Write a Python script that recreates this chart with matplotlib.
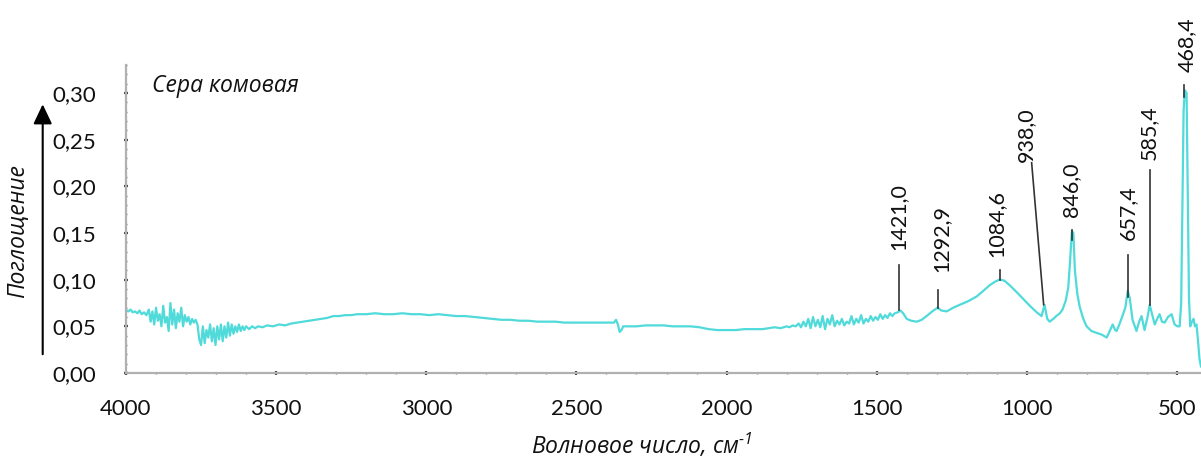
import matplotlib
matplotlib.use("Agg")
import matplotlib.pyplot as plt
from matplotlib.ticker import MultipleLocator

# IR spectrum (wavenumber, absorbance)
wn = [4000, 3992, 3985, 3978, 3970, 3962, 3955, 3948, 3940, 3932,
      3924, 3918, 3912, 3906, 3900, 3894, 3888, 3882, 3876, 3870,
      3864, 3858, 3852, 3846, 3840, 3834, 3828, 3822, 3816, 3810,
      3804, 3798, 3792, 3786, 3780, 3774, 3768, 3762,
      3756, 3750, 3744, 3738, 3732, 3726, 3720, 3714, 3708, 3702,
      3696, 3690, 3684, 3678, 3672, 3666, 3660, 3654, 3648, 3642,
      3636, 3630, 3624, 3618, 3612, 3606, 3600, 3590, 3580, 3570,
      3560, 3545, 3530, 3510, 3490, 3470, 3450, 3430, 3410, 3390,
      3370, 3350, 3330, 3310, 3290, 3270, 3250, 3230, 3200, 3170,
      3140, 3110, 3080, 3050, 3020, 2990, 2960, 2930, 2900, 2870,
      2840, 2810, 2780, 2750, 2720, 2690, 2660, 2630, 2600, 2570,
      2540, 2510, 2480, 2450, 2420, 2390, 2375, 2368, 2362, 2356,
      2350, 2344, 2330, 2300, 2270, 2240, 2210, 2180, 2150, 2120,
      2090, 2060, 2030, 2000, 1970, 1940, 1910, 1880, 1860, 1840,
      1820, 1800, 1790, 1780, 1770, 1760, 1752, 1744, 1736, 1728,
      1720, 1712, 1704, 1696, 1688, 1680, 1672, 1664, 1656, 1648,
      1640, 1632, 1624, 1616, 1608, 1600, 1592, 1584, 1576, 1568,
      1560, 1552, 1544, 1536, 1528, 1520, 1512, 1504, 1496, 1488,
      1480, 1472, 1464, 1456, 1448, 1440, 1430, 1421, 1412, 1400,
      1385, 1367, 1350, 1334, 1315, 1297, 1285, 1267, 1245, 1224,
      1195, 1167, 1145, 1124, 1105, 1091, 1075, 1057, 1035, 1014,
      990, 967, 951, 941, 932, 924, 912, 902, 890, 881,
      870, 862, 856, 850, 845, 840, 832, 824, 812, 801,
      785, 768, 750, 734, 724, 714, 706, 701, 692, 684,
      672, 664, 657, 648, 635, 626, 618, 608, 598, 591,
      582, 574, 566, 558, 550, 541, 530, 518, 508, 498,
      491, 486, 482, 478, 474, 468, 464, 460, 456, 450,
      445, 440, 435, 430, 425, 420]
absorb = [0.067, 0.066, 0.068, 0.065, 0.066, 0.064, 0.067, 0.063, 0.065, 0.062,
          0.068, 0.055, 0.066, 0.052, 0.070, 0.056, 0.063, 0.050, 0.072, 0.054,
          0.060, 0.045, 0.075, 0.052, 0.068, 0.048, 0.064, 0.055, 0.070, 0.050,
          0.062, 0.055, 0.060, 0.052, 0.058, 0.054, 0.057, 0.052,
          0.036, 0.030, 0.050, 0.032, 0.046, 0.038, 0.052, 0.034, 0.048, 0.030,
          0.050, 0.036, 0.052, 0.034, 0.050, 0.038, 0.054, 0.040, 0.052, 0.042,
          0.050, 0.044, 0.052, 0.045, 0.050, 0.046, 0.050, 0.047, 0.050, 0.048,
          0.050, 0.049, 0.051, 0.050, 0.052, 0.051, 0.053, 0.054, 0.055, 0.056,
          0.057, 0.058, 0.059, 0.061, 0.061, 0.062, 0.062, 0.063, 0.063, 0.064,
          0.063, 0.063, 0.064, 0.063, 0.063, 0.062, 0.063, 0.062, 0.061, 0.061,
          0.060, 0.059, 0.058, 0.057, 0.057, 0.056, 0.056, 0.055, 0.055, 0.055,
          0.054, 0.054, 0.054, 0.054, 0.054, 0.054, 0.054, 0.057, 0.052, 0.044,
          0.046, 0.050, 0.050, 0.050, 0.051, 0.051, 0.051, 0.050, 0.050, 0.050,
          0.049, 0.047, 0.046, 0.046, 0.046, 0.047, 0.047, 0.047, 0.048, 0.049,
          0.048, 0.050, 0.049, 0.051, 0.050, 0.053, 0.049, 0.055, 0.050, 0.058,
          0.048, 0.060, 0.050, 0.057, 0.049, 0.061, 0.047, 0.058, 0.052, 0.062,
          0.050, 0.056, 0.052, 0.058, 0.051, 0.055, 0.053, 0.061, 0.052, 0.058,
          0.054, 0.062, 0.053, 0.058, 0.055, 0.061, 0.056, 0.060, 0.057, 0.063,
          0.058, 0.062, 0.059, 0.064, 0.061, 0.064, 0.065, 0.067, 0.064, 0.058,
          0.056, 0.055, 0.057, 0.061, 0.066, 0.070, 0.067, 0.066, 0.070, 0.073,
          0.077, 0.082, 0.088, 0.094, 0.098, 0.100, 0.099, 0.094, 0.087, 0.080,
          0.072, 0.065, 0.061, 0.073, 0.058, 0.055, 0.058, 0.061, 0.064, 0.068,
          0.078, 0.092, 0.120, 0.152, 0.150, 0.110, 0.085, 0.071, 0.058, 0.050,
          0.045, 0.043, 0.041, 0.038, 0.045, 0.052, 0.046, 0.045, 0.052, 0.059,
          0.070, 0.088, 0.080, 0.057, 0.045, 0.055, 0.061, 0.046, 0.060, 0.073,
          0.062, 0.052, 0.058, 0.063, 0.055, 0.054, 0.060, 0.063, 0.052, 0.050,
          0.050, 0.075, 0.180, 0.280, 0.303, 0.300, 0.190, 0.080, 0.050, 0.055,
          0.058, 0.050, 0.052, 0.035, 0.015, 0.007]

# peak labels
peak_text = ['1421,0', '1292,9', '1084,6', '938,0', '846,0', '657,4', '585,4', '468,4']
text_x = [1427, 1284, 1100, 1004, 851, 664, 595, 468]
text_y = [0.132, 0.1085, 0.1246, 0.2265, 0.1675, 0.143, 0.2285, 0.323]
line_x_top = [1427, 1297, 1091, 984, 851, 664, 591, 475]
line_x_bot = [1427, 1297, 1091, 944, 851, 664, 591, 475]
line_y_top = [0.116, 0.0892, 0.1107, 0.2253, 0.1535, 0.1267, 0.218, 0.309]
line_y_bot = [0.0678, 0.070, 0.100, 0.0732, 0.1428, 0.0818, 0.0732, 0.296]

x_ticks = [4000, 3500, 3000, 2500, 2000, 1500, 1000, 500]
y_ticks = [0.00, 0.05, 0.10, 0.15, 0.20, 0.25, 0.30]
y_labels = ['0,00', '0,05', '0,10', '0,15', '0,20', '0,25', '0,30']

plt.rcParams['font.family'] = ['Lato', 'Open Sans', 'DejaVu Sans']
plt.rcParams['mathtext.fontset'] = 'custom'
plt.rcParams['mathtext.it'] = 'Open Sans:italic'
plt.rcParams['mathtext.rm'] = 'Open Sans:italic'

fig = plt.figure(figsize=(12.01, 4.59), dpi=100)
ax = fig.add_axes([126 / 1201, 86 / 459, 1075 / 1201, 308 / 459])

ax.plot(wn, absorb, color='#50dada', lw=1.6)

for i in range(len(peak_text)):
    ax.plot([line_x_top[i], line_x_bot[i]], [line_y_top[i], line_y_bot[i]],
            color='#333333', lw=1.2, clip_on=False)
    ax.text(text_x[i], text_y[i], peak_text[i], rotation=90, ha='center',
            va='bottom', fontsize=15.5, color='#111111', clip_on=False)

ax.set_xlim(4000, 420)
ax.set_ylim(0, 0.33)

for s in ['top', 'right']:
    ax.spines[s].set_visible(False)
for s in ['left', 'bottom']:
    ax.spines[s].set_color('#b0b0b0')
    ax.spines[s].set_linewidth(1.6)

ax.set_xticks(x_ticks)
ax.set_xticklabels([str(t) for t in x_ticks])
ax.xaxis.set_minor_locator(MultipleLocator(100))
ax.set_yticks(y_ticks)
ax.set_yticklabels(y_labels)
ax.yaxis.set_minor_locator(MultipleLocator(0.01))
ax.tick_params(which='major', direction='inout', length=3, width=1.6,
               color='#444444', labelsize=16, labelcolor='#111111')
ax.tick_params(axis='x', which='major', pad=17)
ax.tick_params(axis='y', which='major', pad=20)
ax.tick_params(which='minor', direction='inout', length=2, width=1.0,
               color='#777777')

ax.text(0.024, 0.932, 'Сера комовая', transform=ax.transAxes, fontsize=16.5,
        family='Open Sans', style='italic', va='center', ha='left', color='#111111')

ax.set_xlabel(r'Волновое число, см$^{\text{-1}}$', family='Open Sans',
              style='italic', fontsize=16.5, color='#111111')
ax.xaxis.set_label_coords(0.48, -0.19)

fig.text(18.5 / 1201, 228 / 459, 'Поглощение', rotation=90, family='Open Sans',
         style='italic', fontsize=16.5, ha='center', va='center', color='#111111')

ax.annotate('', xy=(42.7, 357.5), xytext=(42.7, 102),
            xycoords='figure pixels', textcoords='figure pixels',
            arrowprops=dict(arrowstyle='-|>,head_length=0.8,head_width=0.38',
                            mutation_scale=15, color='black', lw=1.5))

fig.savefig('out.png', dpi=100)
